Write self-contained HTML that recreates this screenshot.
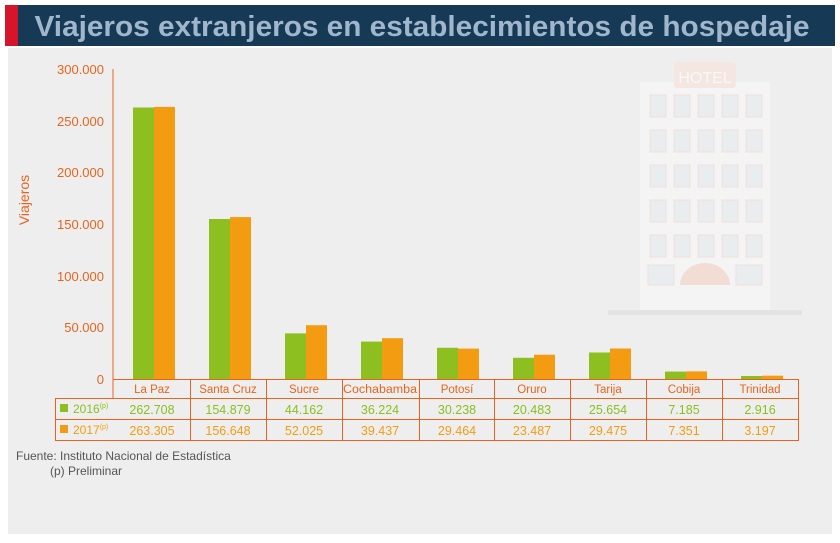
<!DOCTYPE html>
<html><head><meta charset="utf-8"><style>
body{margin:0;width:840px;height:538px;background:#fff;overflow:hidden;font-family:"Liberation Sans",sans-serif}
</style></head><body>
<svg width="840" height="538" xmlns="http://www.w3.org/2000/svg" font-family="Liberation Sans, sans-serif">
<rect x="8" y="48" width="824" height="486" fill="#eeeeee"/>
<rect x="5" y="5" width="830" height="41" fill="#163a56"/>
<rect x="5" y="5" width="13" height="41" fill="#d6142a"/>
<text x="422" y="36" text-anchor="middle" font-size="29" font-weight="bold" fill="#9fb6cc" textLength="775" lengthAdjust="spacingAndGlyphs">Viajeros extranjeros en establecimientos de hospedaje</text>
<!-- hotel -->
<g opacity="0.6">
<rect x="640" y="82" width="130" height="230" fill="#f9f9f9"/>
<rect x="674" y="62" width="62" height="26" rx="3" fill="#f8e2d8"/>
<text x="705" y="83" text-anchor="middle" font-size="16" fill="#fff">HOTEL</text>
<g fill="#e8edf2" stroke="#f3d6cc">
<rect x="650" y="95" width="16" height="22"/><rect x="674" y="95" width="16" height="22"/><rect x="698" y="95" width="16" height="22"/><rect x="722" y="95" width="16" height="22"/><rect x="746" y="95" width="16" height="22"/>
<rect x="650" y="130" width="16" height="22"/><rect x="674" y="130" width="16" height="22"/><rect x="698" y="130" width="16" height="22"/><rect x="722" y="130" width="16" height="22"/><rect x="746" y="130" width="16" height="22"/>
<rect x="650" y="165" width="16" height="22"/><rect x="674" y="165" width="16" height="22"/><rect x="698" y="165" width="16" height="22"/><rect x="722" y="165" width="16" height="22"/><rect x="746" y="165" width="16" height="22"/>
<rect x="650" y="200" width="16" height="22"/><rect x="674" y="200" width="16" height="22"/><rect x="698" y="200" width="16" height="22"/><rect x="722" y="200" width="16" height="22"/><rect x="746" y="200" width="16" height="22"/>
<rect x="650" y="235" width="16" height="22"/><rect x="674" y="235" width="16" height="22"/><rect x="698" y="235" width="16" height="22"/><rect x="722" y="235" width="16" height="22"/><rect x="746" y="235" width="16" height="22"/>
<rect x="648" y="265" width="26" height="20"/><rect x="736" y="265" width="26" height="20"/>
</g>
<path d="M680 285 a25 22 0 0 1 50 0 z" fill="#f6d2c4"/>
<rect x="608" y="310" width="194" height="5" fill="#dcdcdc"/>
</g>
<!-- axis -->
<g font-size="13" fill="#e8641e" text-anchor="end">
<text x="104" y="74">300.000</text><text x="104" y="126">250.000</text><text x="104" y="177">200.000</text>
<text x="104" y="229">150.000</text><text x="104" y="281">100.000</text><text x="104" y="332">50.000</text><text x="104" y="384">0</text>
</g>
<line x1="113" y1="69" x2="113" y2="398" stroke="#e8641e" stroke-width="1"/>
<text transform="translate(29,200) rotate(-90)" text-anchor="middle" font-size="14" fill="#e8641e">Viajeros</text>
<g>
<rect x="133" y="107.5" width="21" height="271.5" fill="#8cbf1f"/><rect x="154" y="106.9" width="21" height="272.1" fill="#f39c12"/>
<rect x="209" y="219" width="21" height="160" fill="#8cbf1f"/><rect x="230" y="217.1" width="21" height="161.9" fill="#f39c12"/>
<rect x="285" y="333.4" width="21" height="45.6" fill="#8cbf1f"/><rect x="306" y="325.2" width="21" height="53.8" fill="#f39c12"/>
<rect x="361" y="341.6" width="21" height="37.4" fill="#8cbf1f"/><rect x="382" y="338.2" width="21" height="40.8" fill="#f39c12"/>
<rect x="437" y="347.8" width="21" height="31.2" fill="#8cbf1f"/><rect x="458" y="348.6" width="21" height="30.4" fill="#f39c12"/>
<rect x="513" y="357.8" width="21" height="21.2" fill="#8cbf1f"/><rect x="534" y="354.7" width="21" height="24.3" fill="#f39c12"/>
<rect x="589" y="352.5" width="21" height="26.5" fill="#8cbf1f"/><rect x="610" y="348.5" width="21" height="30.5" fill="#f39c12"/>
<rect x="665" y="371.6" width="21" height="7.4" fill="#8cbf1f"/><rect x="686" y="371.4" width="21" height="7.6" fill="#f39c12"/>
<rect x="741" y="376" width="21" height="3" fill="#8cbf1f"/><rect x="762" y="375.7" width="21" height="3.3" fill="#f39c12"/>
</g>
<!-- table -->
<g stroke="#e8641e" stroke-width="1" fill="none">
<line x1="113" y1="379.5" x2="798" y2="379.5"/>
<line x1="55" y1="398.5" x2="798" y2="398.5"/>
<line x1="55" y1="419.5" x2="798" y2="419.5"/>
<line x1="55" y1="440.5" x2="798" y2="440.5"/>
<line x1="55.5" y1="398" x2="55.5" y2="441"/>
<line x1="190.5" y1="379" x2="190.5" y2="441"/><line x1="266.5" y1="379" x2="266.5" y2="441"/>
<line x1="342.5" y1="379" x2="342.5" y2="441"/><line x1="419.5" y1="379" x2="419.5" y2="441"/>
<line x1="494.5" y1="379" x2="494.5" y2="441"/><line x1="570.5" y1="379" x2="570.5" y2="441"/>
<line x1="646.5" y1="379" x2="646.5" y2="441"/><line x1="722.5" y1="379" x2="722.5" y2="441"/>
<line x1="798.5" y1="379" x2="798.5" y2="441"/>
</g>
<g font-size="11.5" fill="#e8641e" text-anchor="middle">
<text x="152" y="393">La Paz</text><text x="228" y="393">Santa Cruz</text><text x="304" y="393">Sucre</text>
<text x="380" y="393" textLength="74" lengthAdjust="spacingAndGlyphs">Cochabamba</text><text x="457" y="393">Potosí</text><text x="532" y="393">Oruro</text>
<text x="608" y="393">Tarija</text><text x="684" y="393">Cobija</text><text x="760" y="393">Trinidad</text>
</g>
<rect x="60" y="404" width="8" height="8" fill="#8cbf1f"/>
<text x="73" y="413" font-size="12" fill="#8cbf1f">2016<tspan font-size="7" dy="-5">(p)</tspan></text>
<rect x="60" y="425" width="8" height="8" fill="#f39c12"/>
<text x="73" y="434" font-size="12" fill="#f39c12">2017<tspan font-size="7" dy="-5">(p)</tspan></text>
<g font-size="12.5" fill="#8cbf1f" text-anchor="middle">
<text x="152" y="414">262.708</text><text x="228" y="414">154.879</text><text x="304" y="414">44.162</text>
<text x="380" y="414">36.224</text><text x="457" y="414">30.238</text><text x="532" y="414">20.483</text>
<text x="608" y="414">25.654</text><text x="684" y="414">7.185</text><text x="760" y="414">2.916</text>
</g>
<g font-size="12.5" fill="#f39c12" text-anchor="middle">
<text x="152" y="435">263.305</text><text x="228" y="435">156.648</text><text x="304" y="435">52.025</text>
<text x="380" y="435">39.437</text><text x="457" y="435">29.464</text><text x="532" y="435">23.487</text>
<text x="608" y="435">29.475</text><text x="684" y="435">7.351</text><text x="760" y="435">3.197</text>
</g>
<text x="16" y="460" font-size="12" fill="#555">Fuente: Instituto Nacional de Estadística</text>
<text x="50" y="475" font-size="12" fill="#555">(p) Preliminar</text>
</svg>
</body></html>
